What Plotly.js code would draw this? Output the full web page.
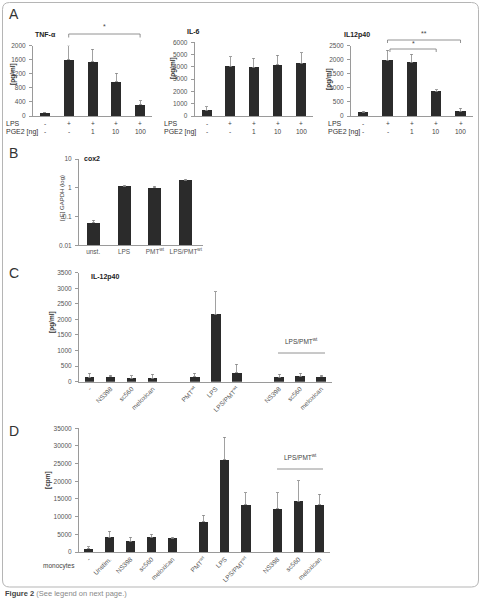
<!DOCTYPE html>
<html><head><meta charset="utf-8">
<script src="https://cdn.plot.ly/plotly-3.0.1.min.js"></script>
<style>html,body{margin:0;padding:0;background:#fff}#chart{width:481px;height:598px}</style>
</head><body><div id="chart"></div>
<script>
// ---------- Panel A ----------
const aLps = ['-', '+', '+', '+', '+'];
const aPge2 = ['-', '-', '1', '10', '100'];
const tnfValues = [90, 1600, 1545, 975, 315];
const tnfErrors = [15, 400, 350, 240, 120];
const il6Values = [450, 4050, 3950, 4180, 4300];
const il6Errors = [300, 780, 750, 780, 850];
const il12Values = [140, 1980, 1910, 880, 170];
const il12Errors = [30, 350, 280, 60, 110];
// ---------- Panel B ----------
const coxCategories = ['unst.', 'LPS', 'PMT<sup>wt</sup>', 'LPS/PMT<sup>wt</sup>'];
const coxValues = [0.061, 1.11, 1.02, 1.83];
const coxErrors = [0.012, 0.13, 0.1, 0.18];
// ---------- Panel C ----------
const cLabels = ['-', 'NS398', 'sc560', 'meloxican', 'PMT<sup>wt</sup>', 'LPS', 'LPS/PMT<sup>wt</sup>', 'NS398', 'sc560', 'meloxican'];
const cValues = [139, 161, 118, 118, 161, 2160, 289, 139, 182, 161];
const cErrors = [130, 45, 75, 115, 110, 730, 270, 95, 85, 40];
// ---------- Panel D ----------
const dLabels = ['-', 'Unstim.', 'NS398', 'sc560', 'meloxican', 'PMT<sup>wt</sup>', 'LPS', 'LPS/PMT<sup>wt</sup>', 'NS398', 'sc560', 'meloxican'];
const dValues = [900, 4200, 3000, 4200, 3900, 8500, 26100, 13300, 12300, 14300, 13400];
const dErrors = [550, 1650, 1150, 800, 300, 1900, 6400, 3500, 4500, 5900, 3000];

// layout helpers
const W = 481, H = 598;
const px = v => v / W;
const py = v => 1 - v / H;
function slots(groups, gap) {
  const out = []; let p = 0;
  groups.forEach((n) => { for (let i = 0; i < n; i++) out.push(p + i); p += n - 1 + gap; });
  return out;
}
const idx5 = [0, 1, 2, 3, 4];
const cSlots = slots([4, 3, 3], 2);
const dSlots = slots([5, 3, 3], 1.5);

const FONT = 'Liberation Sans, Arial, sans-serif';
const BAR = '#2b2b2b';
const AX = '#9a9a9a';
const TICKF = {family: FONT, size: 6.5, color: '#555'};

function bars(x, y, err, xa, ya, w) {
  return {
    type: 'bar', x: x, y: y, xaxis: xa, yaxis: ya, width: w,
    marker: {color: BAR, line: {width: 0}},
    error_y: {type: 'data', symmetric: false, array: err, arrayminus: err.map(() => 0),
      color: '#8a8a8a', thickness: 0.8, width: 1.5},
    hoverinfo: 'none', showlegend: false
  };
}

const data = [
  bars(idx5, tnfValues, tnfErrors, 'x', 'y', 0.42),
  bars(idx5, il6Values, il6Errors, 'x2', 'y2', 0.42),
  bars(idx5, il12Values, il12Errors, 'x3', 'y3', 0.42),
  bars([0, 1, 2, 3], coxValues, coxErrors, 'x4', 'y4', 0.42),
  bars(cSlots, cValues, cErrors, 'x5', 'y5', 0.45),
  bars(dSlots, dValues, dErrors, 'x6', 'y6', 0.43)
];

function xax(d0, d1, r, anchor, extra) {
  return Object.assign({domain: [px(d0), px(d1)], range: r, anchor: anchor, showline: true, linecolor: AX,
    linewidth: 1, showgrid: false, zeroline: false, ticks: '', showticklabels: false, fixedrange: true,
    tickfont: TICKF}, extra || {});
}
function yax(top, bottom, r, dtick, anchor, extra) {
  const o = Object.assign({domain: [py(bottom), py(top)], range: r, tick0: 0, anchor: anchor,
    showline: true, linecolor: AX, linewidth: 1, showgrid: false, zeroline: false, ticks: 'outside',
    ticklen: 3, tickcolor: AX, tickfont: TICKF, fixedrange: true, ticklabelstandoff: 2,
    tickformat: 'd', exponentformat: 'none'}, extra || {});
  if (dtick) o.dtick = dtick;
  return o;
}

const annotations = [];
function ann(text, x, y, opts) {
  annotations.push(Object.assign({text: text, x: x, y: y, xref: 'paper', yref: 'paper', showarrow: false,
    xanchor: 'left', yanchor: 'middle', font: {family: FONT, size: 7, color: '#333'}}, opts || {}));
}
// panel letters
[['A', 14], ['B', 153], ['C', 273], ['D', 431]].forEach(([t, y]) =>
  ann(t, px(7), py(y), {font: {family: FONT, size: 14, color: '#333'}}));
// titles
const boldF = {family: FONT, size: 7, color: '#222'};
ann('<b>TNF-α</b>', px(33), py(35), {font: boldF});
ann('<b>IL-6</b>', px(185), py(32), {font: boldF});
ann('<b>IL12p40</b>', px(342), py(35), {font: boldF});
ann('<b>cox2</b>', px(82), py(159), {font: boldF});
ann('<b>IL-12p40</b>', px(89), py(277), {font: boldF});
// y titles
const yt = (t, x, y, bold, size) => ann(bold ? '<b>' + t + '</b>' : t, px(x), py(y),
  {textangle: -90, xanchor: 'center', yanchor: 'middle', font: {family: FONT, size: size || 6.5, color: '#333'}});
yt('[pg/ml]', 13, 74, true);
yt('[pg/ml]', 173, 68, true);
yt('[pg/ml]', 329, 79, true);
yt('[rE] GAPDH (log)', 62, 198, false, 6);
yt('[pg/ml]', 52, 322, true);
yt('[cpm]', 48, 480, true);
// panel A row labels
const rowF = {family: FONT, size: 6.5, color: '#444'};
[[4, 'x'], [162, 'x2'], [326, 'x3']].forEach(([lx, xr]) => {
  ann('LPS', px(lx), py(124));
  ann('PGE2 [ng]', px(lx), py(131.5));
  aLps.forEach((t, i) => annotations.push({text: t, x: idx5[i], y: py(124), xref: xr, yref: 'paper',
    showarrow: false, xanchor: 'center', yanchor: 'middle', font: rowF}));
  aPge2.forEach((t, i) => annotations.push({text: t, x: idx5[i], y: py(131.5), xref: xr, yref: 'paper',
    showarrow: false, xanchor: 'center', yanchor: 'middle', font: rowF}));
});
// significance stars
const starF = {family: FONT, size: 7, color: '#444'};
annotations.push({text: '*', x: 2.5, y: py(27), xref: 'x', yref: 'paper', showarrow: false, xanchor: 'center', yanchor: 'middle', font: starF});
annotations.push({text: '**', x: 2.5, y: py(34), xref: 'x3', yref: 'paper', showarrow: false, xanchor: 'center', yanchor: 'middle', font: starF});
annotations.push({text: '*', x: 2.05, y: py(44), xref: 'x3', yref: 'paper', showarrow: false, xanchor: 'center', yanchor: 'middle', font: starF});
// LPS/PMT group labels
ann('LPS/PMT<sup>wt</sup>', px(301), py(341), {xanchor: 'center', font: {family: FONT, size: 6.5, color: '#444'}});
ann('LPS/PMT<sup>wt</sup>', px(300), py(457), {xanchor: 'center', font: {family: FONT, size: 6.5, color: '#444'}});
ann('monocytes', px(41), py(566), {font: {family: FONT, size: 6.5, color: '#444'}});
// caption
ann('<b>Figure 2</b> <span style="color:#888">(See legend on next page.)</span>', px(3), py(593),
  {font: {family: FONT, size: 7.5, color: '#444'}});

const br = (xr, x0, x1, yTop, yBot) => ({type: 'path', xref: xr, yref: 'paper',
  path: `M${x0},${py(yBot)} L${x0},${py(yTop)} L${x1},${py(yTop)} L${x1},${py(yBot)}`,
  line: {color: '#777', width: 0.8}});
const r = 7, L = 2.5, T = 2.5, R = 478.5, B = 587;
const borderPath = `M${px(L + r)},${py(T)} L${px(R - r)},${py(T)} Q${px(R)},${py(T)} ${px(R)},${py(T + r)} ` +
  `L${px(R)},${py(B - r)} Q${px(R)},${py(B)} ${px(R - r)},${py(B)} L${px(L + r)},${py(B)} ` +
  `Q${px(L)},${py(B)} ${px(L)},${py(B - r)} L${px(L)},${py(T + r)} Q${px(L)},${py(T)} ${px(L + r)},${py(T)} Z`;
const shapes = [
  {type: 'path', xref: 'paper', yref: 'paper', path: borderPath, line: {color: '#b5b5b5', width: 1}},
  br('x', 1, 4, 34, 37.5),
  br('x3', 1, 4, 40, 43),
  br('x3', 1.1, 3, 49, 52),
  {type: 'line', xref: 'paper', yref: 'paper', x0: px(278), x1: px(325), y0: py(353), y1: py(353), line: {color: '#777', width: 0.8}},
  {type: 'line', xref: 'paper', yref: 'paper', x0: px(277), x1: px(323), y0: py(469), y1: py(469), line: {color: '#777', width: 0.8}}
];

const layout = {
  width: W, height: H, margin: {l: 0, r: 0, t: 0, b: 0}, paper_bgcolor: '#fff', plot_bgcolor: 'rgba(0,0,0,0)',
  font: {family: FONT, size: 7, color: '#444'}, showlegend: false, bargap: 0,
  xaxis: xax(33, 152, [-0.5, 4.5], 'y'),
  yaxis: yax(45.7, 116, [0, 2000], 400, 'x'),
  xaxis2: xax(194.7, 313, [-0.5, 4.5], 'y2'),
  yaxis2: yax(42.3, 116, [0, 6000], 1000, 'x2'),
  xaxis3: xax(351, 472.7, [-0.5, 4.5], 'y3'),
  yaxis3: yax(45.7, 116, [0, 2500], 500, 'x3'),
  xaxis4: xax(79, 203, [-0.46, 3.56], 'y4', {showticklabels: true, tickvals: [0, 1, 2, 3], ticktext: coxCategories}),
  yaxis4: yax(159, 245.3, [-2, 1], null, 'x4', {type: 'log', tickvals: [0.01, 0.1, 1, 10], ticktext: ['0.01', '0.1', '1', '10'], tickformat: ''}),
  xaxis5: xax(79, 331.7, [-0.5, 11.5], 'y5', {showticklabels: true, tickvals: cSlots, ticktext: cLabels, tickangle: -45}),
  yaxis5: yax(272.7, 381.7, [0, 3500], 500, 'x5'),
  xaxis6: xax(79, 330, [-0.45, 11.5], 'y6', {showticklabels: true, tickvals: dSlots, ticktext: dLabels, tickangle: -45}),
  yaxis6: yax(428.3, 552, [0, 35000], 5000, 'x6'),
  annotations: annotations,
  shapes: shapes
};
Plotly.newPlot('chart', data, layout, {staticPlot: true, displayModeBar: false});
</script>
</body></html>
